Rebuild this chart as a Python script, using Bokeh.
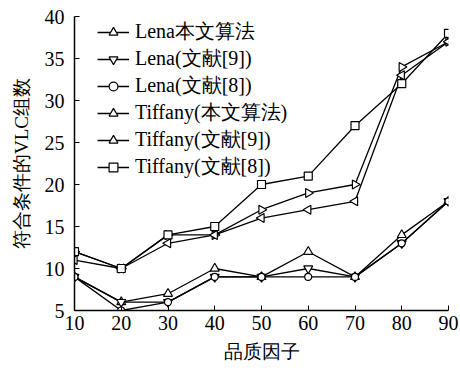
from bokeh.plotting import figure
from bokeh.models import Legend, LegendItem, FixedTicker, Range1d
from bokeh.embed import file_html
from bokeh.resources import INLINE

quality = [10, 20, 30, 40, 50, 60, 70, 80, 90]
lena_ours = [9, 6, 7, 10, 9, 12, 9, 14, 18]
lena_ref9 = [9, 6, 6, 9, 9, 10, 9, 13, 18]
lena_ref8 = [9, 5, 6, 9, 9, 9, 9, 13, 18]
tiff_ours = [12, 10, 14, 14, 17, 19, 20, 34, 37]
tiff_ref9 = [11, 10, 13, 14, 16, 17, 18, 33, 37]
tiff_ref8 = [12, 10, 14, 15, 20, 21, 27, 32, 38]

series_names = ["Lena本文算法", "Lena(文献[9])", "Lena(文献[8])",
                "Tiffany(本文算法)", "Tiffany(文献[9])", "Tiffany(文献[8])"]
series_vals = [lena_ours, lena_ref9, lena_ref8, tiff_ours, tiff_ref9, tiff_ref8]
markers = ["triangle", "inverted_triangle", "circle",
           "triangle", "triangle", "square"]
angles = [0.0, 0.0, 0.0, -1.5708, 1.5708, 0.0]
sizes = [9, 9, 7, 9, 9, 8]

x_ticks = [10, 20, 30, 40, 50, 60, 70, 80, 90]
y_ticks = [5, 10, 15, 20, 25, 30, 35, 40]

SERIF = "Liberation Serif"

p = figure(width=460, height=374, output_backend="svg", toolbar_location=None,
           x_range=Range1d(10, 90), y_range=Range1d(5, 40),
           min_border_left=74, min_border_right=12, min_border_top=16, min_border_bottom=64)
p.outline_line_color = None
p.grid.visible = False
p.background_fill_color = "white"

items = []
for name, vals, mk, ang, sz in zip(series_names, series_vals, markers, angles, sizes):
    r1 = p.line(quality, vals, line_color="black", line_width=1.3)
    r2 = p.scatter(x=quality, y=vals, marker=mk, angle=[ang] * len(vals),
                   size=sz, line_color="black", fill_color="white", line_width=1.2)
    items.append(LegendItem(label=name, renderers=[r1, r2]))

legend = Legend(items=items, location=(23, 130), padding=0, spacing=0, margin=0,
                label_height=22, glyph_height=22, glyph_width=32,
                label_standoff=6,
                label_text_font=SERIF, label_text_font_size="20px",
                label_text_color="black",
                background_fill_alpha=0, border_line_color=None)
p.add_layout(legend, "center")

for ax in (p.xaxis, p.yaxis):
    ax.axis_line_color = "black"
    ax.axis_line_width = 1.5
    ax.major_tick_in = 5
    ax.major_tick_out = 0
    ax.minor_tick_line_color = None
    ax.major_tick_line_color = "black"
    ax.major_label_text_font = SERIF
    ax.major_label_text_font_size = "20px"
    ax.major_label_text_color = "black"
    ax.axis_label_text_font = SERIF
    ax.axis_label_text_font_size = "19px"
    ax.axis_label_text_font_style = "normal"
    ax.axis_label_text_color = "black"

p.xaxis.ticker = FixedTicker(ticks=x_ticks)
p.yaxis.ticker = FixedTicker(ticks=y_ticks)
p.xaxis.major_label_standoff = 5
p.yaxis.major_label_standoff = 10
p.xaxis.axis_label = "品质因子"
p.yaxis.axis_label = "符合条件的VLC组数"
p.xaxis.axis_label_standoff = 8
p.yaxis.axis_label_standoff = 10

open("out.html", "w").write(file_html(p, INLINE))
